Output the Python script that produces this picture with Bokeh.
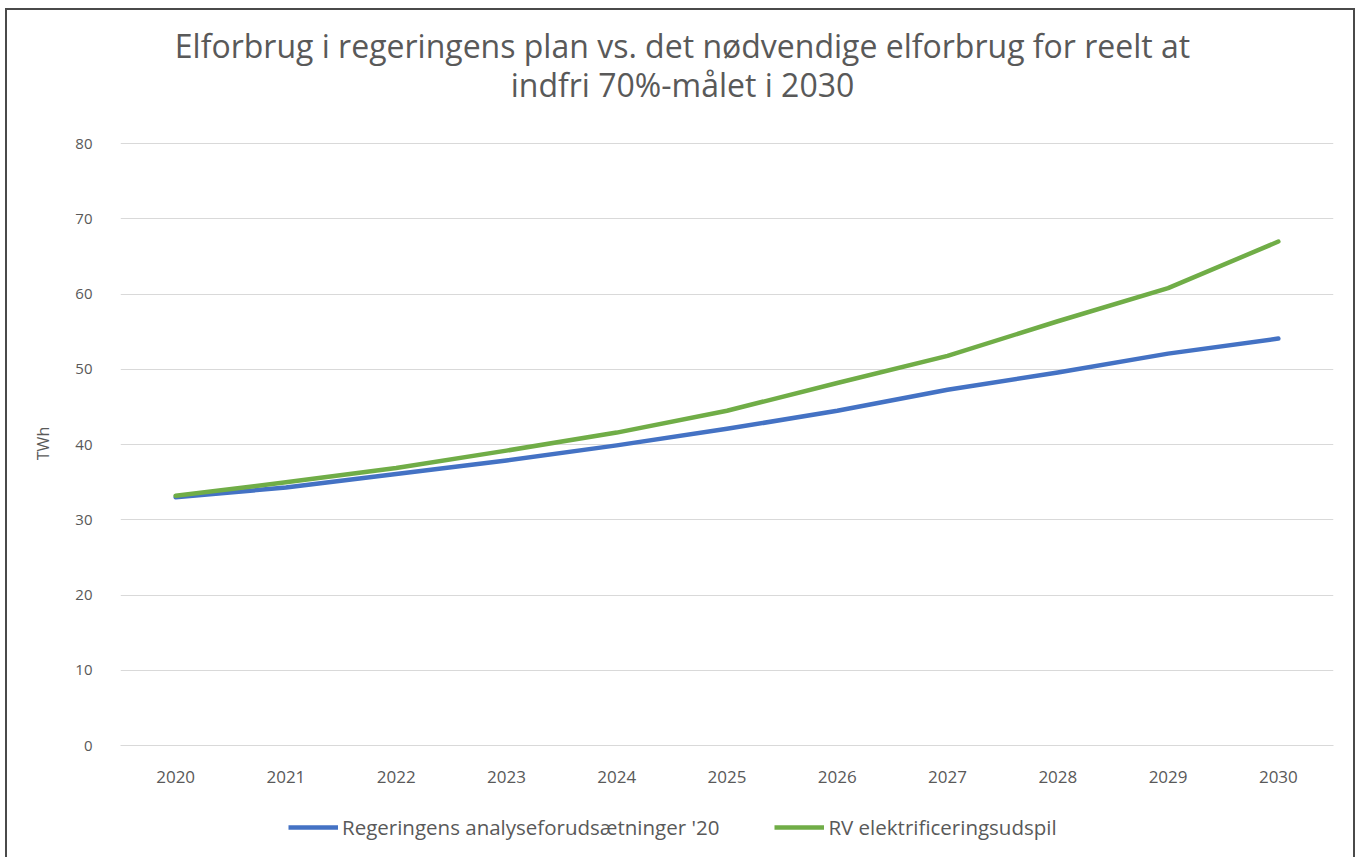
from bokeh.plotting import figure
from bokeh.models import ColumnDataSource, Legend, LegendItem, Label, FactorRange, Range1d, SingleIntervalTicker
from bokeh.layouts import column
from bokeh.embed import file_html
from bokeh.resources import INLINE

years = ["2020", "2021", "2022", "2023", "2024", "2025", "2026", "2027", "2028", "2029", "2030"]
regeringens = [33.0, 34.3, 36.1, 37.9, 39.9, 42.1, 44.5, 47.3, 49.6, 52.1, 54.1]
rv_udspil = [33.2, 35.0, 36.9, 39.2, 41.6, 44.5, 48.2, 51.8, 56.4, 60.8, 67.0]
series_names = ["Regeringens analyseforudsætninger '20", "RV elektrificeringsudspil"]
series_colors = ["#4472C4", "#70AD47"]
title_lines = ["Elforbrug i regeringens plan vs. det nødvendige elforbrug for reelt at",
               "indfri 70%-målet i 2030"]
y_label = "TWh"

FONT = "Open Sans"
GRAY = "#595959"
W = 1346


def blank(h, yr=None):
    f = figure(width=W, height=h, x_range=FactorRange(*years, range_padding=0),
               y_range=yr if yr is not None else Range1d(0, h),
               x_axis_type=None, y_axis_type=None,
               output_backend="svg", toolbar_location=None,
               min_border_left=0, min_border_right=0, min_border_top=0, min_border_bottom=0)
    f.grid.grid_line_color = None
    f.outline_line_color = None
    f.background_fill_color = "white"
    f.border_fill_color = "white"
    return f


src = ColumnDataSource(dict(year=years, reg=regeringens, rv=rv_udspil))

# ---- header with two-line title (frame is aligned with the main chart's frame)
header = blank(123)
for i, t in enumerate(title_lines):
    header.add_layout(Label(x=562, y=88 - 39 * i, x_units="screen", y_units="screen", text=t,
                            text_align="center", text_baseline="middle",
                            text_font=FONT, text_font_size="32px", text_color=GRAY))

# ---- main chart
p = figure(width=W, height=677, x_range=FactorRange(*years, range_padding=0),
           y_range=Range1d(0, 80.3), output_backend="svg", toolbar_location=None,
           min_border_left=113, min_border_right=20, min_border_top=8, min_border_bottom=65)
p.outline_line_color = None
p.background_fill_color = "white"
p.border_fill_color = "white"

p.line("year", "reg", source=src, line_color=series_colors[0], line_width=4.5, line_cap="round", line_join="round")
p.line("year", "rv", source=src, line_color=series_colors[1], line_width=4.5, line_cap="round", line_join="round")

p.yaxis.ticker = SingleIntervalTicker(interval=10)
p.ygrid.grid_line_color = "#d9d9d9"
p.ygrid.grid_line_width = 1.2
p.xgrid.grid_line_color = None

for ax in (p.xaxis, p.yaxis):
    ax.major_tick_line_color = None
    ax.minor_tick_line_color = None
    ax.major_label_text_font = FONT
    ax.major_label_text_color = GRAY
    ax.axis_label_text_font = FONT
p.yaxis.major_label_text_font_size = "15px"
p.xaxis.major_label_text_font_size = "17px"
p.yaxis.axis_line_color = None
p.xaxis.axis_line_color = "#d9d9d9"
p.xaxis.axis_line_width = 1.2
p.yaxis.major_label_standoff = 22
p.xaxis.major_label_standoff = 19
p.yaxis.axis_label = y_label
p.yaxis.axis_label_text_font_size = "16px"
p.yaxis.axis_label_text_font_style = "normal"
p.yaxis.axis_label_text_color = GRAY
p.yaxis.axis_label_standoff = 18

# ---- footer with legend (hidden copies of the series provide the legend glyphs)
footer = blank(50, yr=Range1d(100, 101))
lr = [footer.line("year", col, source=src, line_color=c, line_width=4.5)
      for col, c in zip(["reg", "rv"], series_colors)]
legend = Legend(items=[LegendItem(label=n, renderers=[r]) for n, r in zip(series_names, lr)],
                orientation="horizontal", location=(168, 19))
legend.label_text_font = FONT
legend.label_text_font_size = "20.5px"
legend.label_text_color = GRAY
legend.glyph_width = 50
legend.label_standoff = 4
legend.spacing = 55
legend.border_line_color = None
legend.background_fill_alpha = 0
legend.margin = 0
legend.padding = 5
footer.add_layout(legend)

layout = column(header, p, footer, spacing=0,
                styles={"border": "2px solid #4a4a4a", "margin-left": "5px", "margin-top": "8px"})

open("out.html", "w").write(file_html(layout, INLINE))
